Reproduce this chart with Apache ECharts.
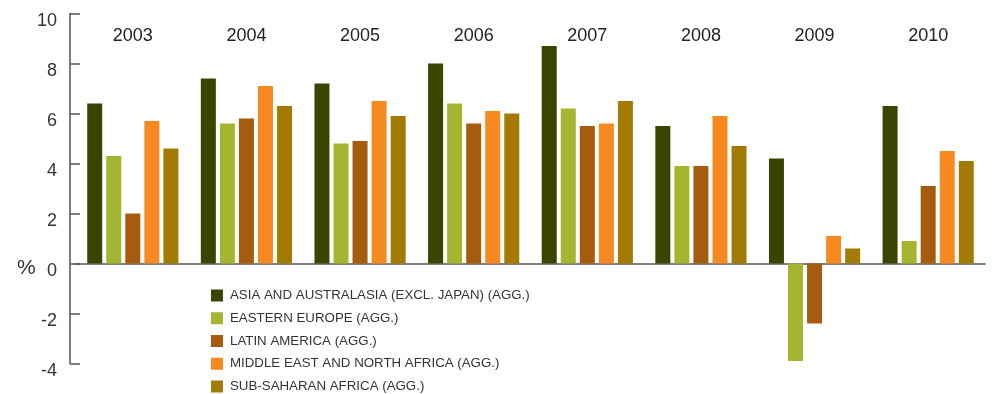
<!DOCTYPE html>
<html>
<head>
<meta charset="utf-8">
<script src="https://cdn.jsdelivr.net/npm/echarts@6/dist/echarts.min.js"></script>
<style>
  html, body { margin: 0; padding: 0; background: #fff; }
  #chart { width: 994px; height: 394px; }
</style>
</head>
<body>
<div id="chart"></div>
<script>
// Real GDP growth by emerging region, % per year
const years = ['2003', '2004', '2005', '2006', '2007', '2008', '2009', '2010'];
const seriesNames = [
  'ASIA AND AUSTRALASIA (EXCL. JAPAN) (AGG.)',
  'EASTERN EUROPE (AGG.)',
  'LATIN AMERICA (AGG.)',
  'MIDDLE EAST AND NORTH AFRICA (AGG.)',
  'SUB-SAHARAN AFRICA (AGG.)'
];
const asiaAustralasia = [6.4, 7.4, 7.2, 8.0, 8.7, 5.5, 4.2, 6.3];
const easternEurope   = [4.3, 5.6, 4.8, 6.4, 6.2, 3.9, -3.9, 0.9];
const latinAmerica    = [2.0, 5.8, 4.9, 5.6, 5.5, 3.9, -2.4, 3.1];
const meNorthAfrica   = [5.7, 7.1, 6.5, 6.1, 5.6, 5.9, 1.1, 4.5];
const subSaharan      = [4.6, 6.3, 5.9, 6.0, 6.5, 4.7, 0.6, 4.1];
const yTicks = [-4, -2, 0, 2, 4, 6, 8, 10];

const palette = ['#3c4500', '#a5b530', '#a75c0d', '#f68a21', '#a37a04'];
const seriesData = [asiaAustralasia, easternEurope, latinAmerica, meNorthAfrica, subSaharan];
const font = '"Liberation Sans", Arial, Helvetica, sans-serif';

const chart = echarts.init(document.getElementById('chart'), null, { renderer: 'canvas' });

chart.setOption({
  animation: false,
  color: palette,
  textStyle: { fontFamily: font },
  title: {
    text: '%',
    left: 12,
    top: 253,
    textStyle: { fontFamily: font, fontSize: 21, fontWeight: 'normal', color: '#333' }
  },
  legend: {
    orient: 'vertical',
    left: 206,
    top: 284,
    height: 140,
    itemWidth: 12,
    itemHeight: 12,
    itemGap: 9.75,
    icon: 'rect',
    selectedMode: false,
    textStyle: { fontFamily: font, fontSize: 13.3, color: '#333', padding: [0, 0, 0, 2] },
    data: seriesNames
  },
  grid: { left: 76, right: 9, top: 13.5, bottom: 30.5, containLabel: false },
  xAxis: [
    {
      type: 'category',
      data: years,
      position: 'bottom',
      boundaryGap: true,
      axisLine: { onZero: true, lineStyle: { color: '#555', width: 1.5 } },
      axisTick: {
        inside: true,
        length: 7,
        lineStyle: { color: '#777', width: 1.2 },
        interval: 0
      },
      axisLabel: { show: false },
      splitLine: { show: false }
    },
    {
      type: 'category',
      data: years,
      position: 'top',
      boundaryGap: true,
      axisLine: { show: false },
      axisTick: { show: false },
      axisLabel: {
        inside: true,
        margin: 14,
        verticalAlign: 'top',
        fontFamily: font,
        fontSize: 18,
        color: '#222'
      }
    }
  ],
  yAxis: {
    type: 'value',
    min: -4,
    max: 10,
    interval: 2,
    offset: 6,
    axisLine: { show: true, lineStyle: { color: '#555', width: 1.5 } },
    axisTick: { show: true, inside: true, length: 10, lineStyle: { color: '#555', width: 1.5 } },
    splitLine: { show: false },
    axisLabel: {
      margin: 13,
      fontFamily: font,
      fontSize: 18,
      color: '#333',
      verticalAlign: 'top',
      lineHeight: 15,
      formatter: function (v) { return yTicks.indexOf(v) >= 0 ? String(v) : ''; }
    }
  },
  series: seriesNames.map(function (name, i) {
    return {
      name: name,
      type: 'bar',
      data: seriesData[i],
      barWidth: 15,
      barGap: '27%',
      itemStyle: { color: palette[i] }
    };
  })
});
</script>
</body>
</html>
